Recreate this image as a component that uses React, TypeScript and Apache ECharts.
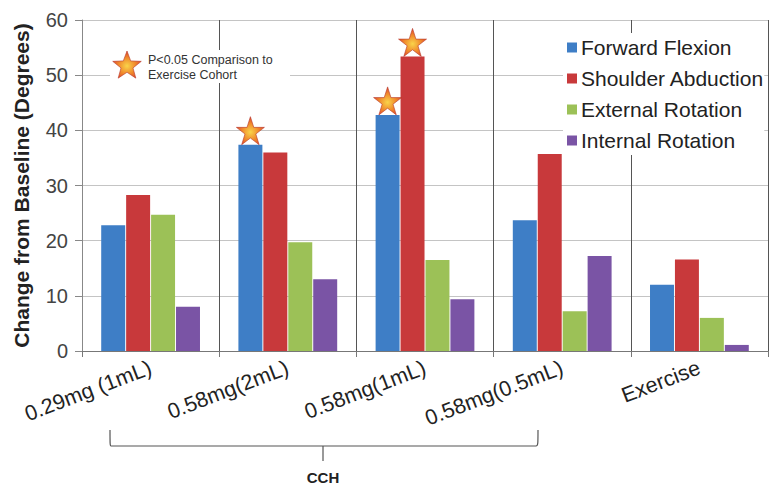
import React, { useEffect, useRef } from "react";
import * as echarts from "echarts";

const categories = ["0.29mg (1mL)", "0.58mg(2mL)", "0.58mg(1mL)", "0.58mg(0.5mL)", "Exercise"];
const seriesNames = ["Forward Flexion", "Shoulder Abduction", "External Rotation", "Internal Rotation"];
const forwardFlexion = [22.8, 37.4, 42.8, 23.7, 12.0];
const shoulderAbduction = [28.3, 36.0, 53.4, 35.7, 16.6];
const externalRotation = [24.7, 19.7, 16.5, 7.2, 6.0];
const internalRotation = [8.0, 13.0, 9.4, 17.2, 1.1];
const seriesValues = [forwardFlexion, shoulderAbduction, externalRotation, internalRotation];
const colors = ["#3e7ec6", "#c8393b", "#9cc157", "#7a54a5"];
// significant points: [seriesIndex, categoryIndex]
const significant: [number, number][] = [[0, 1], [0, 2], [1, 2]];
const yTicks = [0, 10, 20, 30, 40, 50, 60];

const FONT = "'Liberation Sans', Arial, sans-serif";
const STAR_PATH =
  "path://M50,0 L61.8,35.5 L99,35.5 L69,57.5 L80.5,93 L50,71 L19.5,93 L31,57.5 L1,35.5 L38.2,35.5 Z";

function starPoints(cx: number, cy: number, R: number, r: number) {
  const pts: number[][] = [];
  for (let i = 0; i < 10; i++) {
    const rad = i % 2 === 0 ? R : r;
    const a = -Math.PI / 2 + (i * Math.PI) / 5;
    pts.push([cx + rad * Math.cos(a), cy + rad * Math.sin(a)]);
  }
  return pts;
}

export default function App() {
  const ref = useRef<HTMLDivElement>(null);
  useEffect(() => {
    if (!ref.current) return;
    const chart = echarts.init(ref.current, undefined, { renderer: "svg" });
    const starFill = new echarts.graphic.RadialGradient(0.5, 0.55, 0.6, [
      { offset: 0, color: "#f9d44a" },
      { offset: 0.5, color: "#f08a2c" },
      { offset: 1, color: "#d9382a" },
    ]);
    const series = seriesNames.map((name, si) => ({
      name,
      type: "bar",
      data: seriesValues[si],
      barCategoryGap: "28%",
      barGap: "4%",
      itemStyle: { color: colors[si] },
      markPoint: {
        symbol: STAR_PATH,
        symbolSize: 28,
        symbolOffset: [0, -14],
        label: { show: false },
        itemStyle: { color: starFill, borderColor: "#b5362a", borderWidth: 0.6 },
        data: significant
          .filter(([s]) => s === si)
          .map(([, c]) => ({ coord: [c, seriesValues[si][c]] })),
      },
    }));
    const stroke = { stroke: "#555", lineWidth: 1.2, fill: "none" };
    chart.setOption({
      animation: false,
      grid: { left: 82, right: 10, top: 20, bottom: 137 },
      legend: {
        data: seriesNames,
        orient: "vertical",
        left: 563,
        top: 33,
        itemWidth: 10,
        itemHeight: 10,
        itemGap: 10,
        icon: "rect",
        backgroundColor: "#ffffff",
        padding: [4, 0, 4, 4],
        textStyle: { fontFamily: FONT, fontSize: 21, color: "#222", padding: [0, 0, 0, -1] },
      },
      xAxis: {
        type: "category",
        data: categories,
        axisLine: { lineStyle: { color: "#777" } },
        axisTick: { show: true, length: 6, lineStyle: { color: "#777" } },
        splitLine: { show: true, lineStyle: { color: "#555", width: 1 } },
        axisLabel: {
          rotate: 21,
          margin: 16,
          fontFamily: FONT,
          fontSize: 21.5,
          color: "#222",
          interval: 0,
        },
      },
      yAxis: {
        type: "value",
        min: 0,
        max: yTicks[yTicks.length - 1],
        interval: 10,
        name: "Change from Baseline (Degrees)",
        nameLocation: "middle",
        nameGap: 50,
        nameTextStyle: { fontFamily: FONT, fontSize: 21, fontWeight: "bold", color: "#222" },
        axisLine: { show: true, lineStyle: { color: "#888" } },
        axisTick: { show: true, length: 7, lineStyle: { color: "#888" } },
        splitLine: { lineStyle: { color: "#c4c4c4" } },
        axisLabel: { fontFamily: FONT, fontSize: 20, color: "#444", margin: 14 },
      },
      series,
      graphic: [
        {
          type: "group",
          left: 110,
          top: 50,
          z: 100,
          children: [
            { type: "rect", z: 100, shape: { x: 0, y: 0, width: 180, height: 33 }, style: { fill: "#fff" } },
            {
              type: "polygon",
              z: 101,
              shape: { points: starPoints(17, 16, 15, 6.3) },
              style: { fill: starFill, stroke: "#b5362a", lineWidth: 0.6 },
            },
            {
              type: "text",
              z: 101,
              x: 38,
              y: 3,
              style: {
                text: "P<0.05 Comparison to\nExercise Cohort",
                fontFamily: FONT,
                fontSize: 12.5,
                lineHeight: 14.5,
                fill: "#333",
              },
            },
          ],
        },
        {
          type: "group",
          z: 100,
          children: [
            { type: "bezierCurve", shape: { x1: 110, y1: 430, x2: 111, y2: 446, cpx1: 110, cpy1: 444, cpx2: 110, cpy2: 446 }, style: stroke },
            { type: "line", shape: { x1: 111, y1: 446, x2: 536, y2: 446 }, style: stroke },
            { type: "bezierCurve", shape: { x1: 538, y1: 430, x2: 536, y2: 446, cpx1: 538, cpy1: 444, cpx2: 538, cpy2: 446 }, style: stroke },
            { type: "line", shape: { x1: 323, y1: 446, x2: 323, y2: 461 }, style: stroke },
          ],
        },
        {
          type: "text",
          z: 100,
          x: 323,
          y: 477,
          style: {
            text: "CCH",
            fontFamily: FONT,
            fontSize: 15,
            fontWeight: "bold",
            fill: "#222",
            align: "center",
            verticalAlign: "middle",
          },
        },
      ],
    });
    return () => chart.dispose();
  }, []);
  return <div ref={ref} style={{ width: 778, height: 488, position: "absolute", left: 0, top: 0, background: "#fff" }} />;
}
